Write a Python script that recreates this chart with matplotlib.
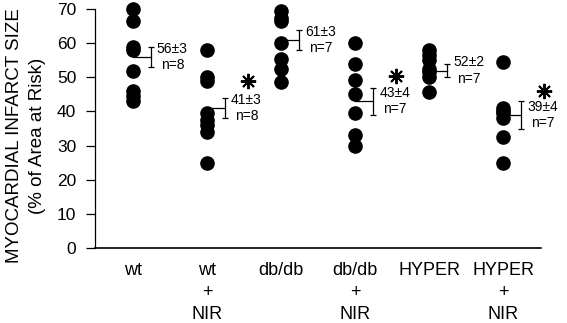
import matplotlib.pyplot as plt
import numpy as np

plt.rcParams['font.family'] = ['Liberation Sans', 'DejaVu Sans']

groups = ["wt", "wt\n+\nNIR", "db/db", "db/db\n+\nNIR", "HYPER", "HYPER\n+\nNIR"]

# individual infarct sizes
wt = [70, 66.5, 59, 58, 52, 46, 44.5, 43]
wt_nir = [58, 50, 49, 39.5, 37.5, 36, 34, 25]
db = [69.5, 67.5, 66.5, 60, 55.5, 52.5, 48.7]
db_nir = [60, 54, 49.3, 45, 39.6, 33, 29.8]
hyper = [58, 56.5, 55, 52.5, 51.5, 50, 45.7]
hyper_nir = [54.5, 41, 40, 39.5, 38, 32.5, 25]
all_data = [wt, wt_nir, db, db_nir, hyper, hyper_nir]

means = [56, 41, 61, 43, 52, 39]
sems = [3, 3, 3, 4, 2, 4]
ns = [8, 8, 7, 7, 7, 7]
# height of significance asterisk (None = not significant)
star_y = [None, 49, None, 50.5, None, 46]

fig = plt.figure(figsize=(5.67, 3.23), dpi=100)
ax = fig.add_axes([0.1676, 0.232, 0.787, 0.74])

for i, vals in enumerate(all_data):
    ax.plot([i] * len(vals), vals, 'o', color='black', markersize=9.5,
            zorder=3, clip_on=False)
    bx = i + 0.24
    ax.plot([i, bx], [means[i], means[i]], color='black', lw=0.9, zorder=2)
    ax.errorbar(bx, means[i], yerr=sems[i], color='black', lw=0.9,
                capsize=2, capthick=0.9, zorder=2)
    ax.text(bx + 0.085, means[i], "%d±%d\nn=%d" % (means[i], sems[i], ns[i]),
            fontsize=10, ha='left', va='center', multialignment='center',
            linespacing=1.2)
    if star_y[i] is not None:
        ax.plot(i + 0.55, star_y[i], marker=(8, 2, 0), color='black',
                markersize=11, markeredgewidth=1.4, clip_on=False)

ax.set_xlim(-0.51, 5.51)
ax.set_ylim(0, 70)
ax.set_yticks(np.arange(0, 71, 10))
ax.set_xticks(range(len(groups)))
ax.set_xticklabels(groups, fontsize=13, linespacing=1.37)
ax.tick_params(axis='x', length=0, pad=10)
ax.tick_params(axis='y', length=6.5, width=0.9, labelsize=12.5, pad=7)
ax.spines['top'].set_visible(False)
ax.spines['right'].set_visible(False)
ax.spines['left'].set_linewidth(0.9)
ax.spines['bottom'].set_linewidth(1.2)
ax.set_ylabel("MYOCARDIAL INFARCT SIZE\n(% of Area at Risk)", fontsize=13.5,
              linespacing=1.45)
ax.yaxis.set_label_coords(-0.11, 0.47)

fig.savefig("out.png", dpi=100)
